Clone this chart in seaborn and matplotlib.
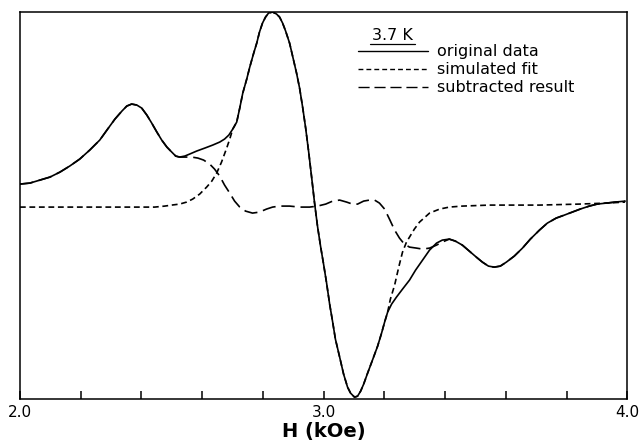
import pandas as pd
import seaborn as sns
import matplotlib.pyplot as plt
from matplotlib.ticker import MultipleLocator, FormatStrFormatter
from matplotlib.lines import Line2D

# values (field H in kOe, signal in arb. units)
h_orig = [2.000, 2.033, 2.066, 2.099, 2.132, 2.164, 2.197, 2.230, 2.263, 2.289,
          2.313, 2.336, 2.352, 2.368, 2.385, 2.401, 2.418, 2.434, 2.451, 2.467,
          2.484, 2.500, 2.513, 2.526, 2.543, 2.559, 2.582, 2.609, 2.635, 2.658,
          2.674, 2.688, 2.701, 2.714, 2.724, 2.734, 2.747, 2.757, 2.770, 2.780,
          2.789, 2.799, 2.809, 2.819, 2.832, 2.845, 2.855, 2.865, 2.875, 2.888,
          2.898, 2.911, 2.921, 2.931, 2.941, 2.951, 2.961, 2.970, 2.980, 2.990,
          3.000, 3.010, 3.020, 3.030, 3.039, 3.053, 3.066, 3.079, 3.089, 3.102,
          3.112, 3.122, 3.132, 3.145, 3.161, 3.178, 3.191, 3.201, 3.211, 3.224,
          3.240, 3.260, 3.283, 3.303, 3.326, 3.349, 3.372, 3.391, 3.414, 3.434,
          3.457, 3.480, 3.503, 3.523, 3.543, 3.562, 3.582, 3.602, 3.628, 3.655,
          3.681, 3.711, 3.737, 3.766, 3.793, 3.819, 3.845, 3.875, 3.901, 3.931,
          3.961, 3.993]
y_orig = [0.22, 0.23, 0.26, 0.29, 0.34, 0.40, 0.47, 0.56, 0.66, 0.77,
          0.87, 0.95, 1.00, 1.02, 1.01, 0.98, 0.91, 0.83, 0.74, 0.66,
          0.59, 0.54, 0.50, 0.49, 0.50, 0.52, 0.55, 0.58, 0.61, 0.64,
          0.67, 0.71, 0.77, 0.84, 0.98, 1.13, 1.27, 1.39, 1.53, 1.63,
          1.74, 1.83, 1.89, 1.93, 1.94, 1.92, 1.89, 1.83, 1.75, 1.63,
          1.50, 1.33, 1.18, 0.99, 0.78, 0.54, 0.28, 0.04, -0.20, -0.40,
          -0.58, -0.77, -0.98, -1.16, -1.33, -1.51, -1.68, -1.81, -1.87, -1.91,
          -1.90, -1.85, -1.78, -1.67, -1.54, -1.40, -1.27, -1.16, -1.06, -0.98,
          -0.91, -0.83, -0.74, -0.64, -0.54, -0.44, -0.37, -0.34, -0.33, -0.35,
          -0.39, -0.45, -0.51, -0.56, -0.60, -0.61, -0.60, -0.56, -0.50, -0.42,
          -0.33, -0.24, -0.17, -0.12, -0.09, -0.06, -0.03, 0.00, 0.02, 0.03,
          0.04, 0.05]

h_fit = [2.000, 2.132, 2.263, 2.395, 2.444, 2.477, 2.500, 2.526, 2.549, 2.569,
         2.592, 2.615, 2.632, 2.648, 2.664, 2.681, 2.691, 2.701, 2.714, 2.724,
         2.734, 2.747, 2.757, 2.770, 2.780, 2.789, 2.799, 2.809, 2.819, 2.832,
         2.845, 2.855, 2.865, 2.875, 2.888, 2.898, 2.911, 2.921, 2.931, 2.941,
         2.951, 2.961, 2.970, 2.980, 2.990, 3.000, 3.010, 3.020, 3.030, 3.039,
         3.053, 3.066, 3.079, 3.089, 3.102, 3.112, 3.122, 3.132, 3.145, 3.161,
         3.178, 3.191, 3.201, 3.211, 3.220, 3.234, 3.243, 3.250, 3.260, 3.273,
         3.283, 3.299, 3.316, 3.349, 3.382, 3.414, 3.457, 3.546, 3.711, 3.842,
         3.931, 3.993]
y_fit = [-0.01, -0.01, -0.01, -0.01, -0.01, 0.00, 0.01, 0.02, 0.04, 0.07,
         0.12, 0.19, 0.25, 0.33, 0.44, 0.58, 0.67, 0.77, 0.84, 0.98,
         1.13, 1.27, 1.39, 1.53, 1.63, 1.74, 1.83, 1.89, 1.93, 1.94,
         1.92, 1.89, 1.83, 1.75, 1.63, 1.50, 1.33, 1.18, 0.99, 0.78,
         0.54, 0.28, 0.04, -0.20, -0.40, -0.58, -0.77, -0.98, -1.16, -1.33,
         -1.51, -1.68, -1.81, -1.87, -1.91, -1.90, -1.85, -1.78, -1.67, -1.54,
         -1.40, -1.27, -1.16, -1.06, -0.93, -0.79, -0.67, -0.58, -0.46, -0.36,
         -0.31, -0.23, -0.16, -0.07, -0.03, -0.01, 0.00, 0.01, 0.01, 0.02,
         0.03, 0.04]

h_sub = [2.000, 2.033, 2.066, 2.099, 2.132, 2.164, 2.197, 2.230, 2.263, 2.289,
         2.313, 2.336, 2.352, 2.368, 2.385, 2.401, 2.418, 2.434, 2.451, 2.467,
         2.484, 2.500, 2.513, 2.526, 2.543, 2.566, 2.586, 2.605, 2.625, 2.641,
         2.658, 2.674, 2.691, 2.707, 2.724, 2.743, 2.766, 2.789, 2.812, 2.832,
         2.855, 2.888, 2.921, 2.954, 2.980, 3.007, 3.030, 3.053, 3.076, 3.095,
         3.112, 3.132, 3.151, 3.168, 3.184, 3.201, 3.217, 3.234, 3.250, 3.266,
         3.283, 3.306, 3.326, 3.349, 3.372, 3.391, 3.414, 3.434, 3.457, 3.480,
         3.503, 3.523, 3.543, 3.562, 3.582, 3.602, 3.628, 3.655, 3.681, 3.711,
         3.737, 3.766, 3.793, 3.819, 3.845, 3.875, 3.901, 3.931, 3.961, 3.993]
y_sub = [0.22, 0.23, 0.26, 0.29, 0.34, 0.40, 0.47, 0.56, 0.66, 0.77,
         0.87, 0.95, 1.00, 1.02, 1.01, 0.98, 0.91, 0.83, 0.74, 0.66,
         0.59, 0.54, 0.50, 0.49, 0.49, 0.49, 0.48, 0.46, 0.42, 0.37,
         0.30, 0.21, 0.13, 0.05, -0.01, -0.05, -0.07, -0.06, -0.03, -0.01,
         0.00, 0.00, -0.01, -0.01, 0.00, 0.02, 0.05, 0.06, 0.04, 0.02,
         0.02, 0.05, 0.06, 0.06, 0.03, -0.03, -0.13, -0.24, -0.32, -0.38,
         -0.41, -0.42, -0.43, -0.42, -0.39, -0.36, -0.33, -0.35, -0.39, -0.45,
         -0.51, -0.56, -0.60, -0.61, -0.60, -0.56, -0.50, -0.42, -0.33, -0.24,
         -0.17, -0.12, -0.09, -0.06, -0.03, 0.00, 0.02, 0.03, 0.04, 0.05]

labels = ["original data", "simulated fit", "subtracted result"]
dash_styles = ["", (3.5, 2.2), (8, 3.5)]
temperature = "3.7 K"

df = pd.concat([
    pd.DataFrame({"H": h_orig, "signal": y_orig, "curve": labels[0]}),
    pd.DataFrame({"H": h_fit, "signal": y_fit, "curve": labels[1]}),
    pd.DataFrame({"H": h_sub, "signal": y_sub, "curve": labels[2]}),
])

sns.set_style("ticks")
plt.rcParams["font.family"] = ["DejaVu Sans"]
plt.rcParams["text.color"] = "black"
plt.rcParams["axes.labelcolor"] = "black"

fig = plt.figure(figsize=(6.42, 4.45), dpi=100)
ax = fig.add_axes([0.031, 0.103, 0.946, 0.870])

sns.lineplot(data=df, x="H", y="signal", hue="curve", style="curve",
             palette={l: "black" for l in labels},
             dashes=dict(zip(labels, dash_styles)),
             estimator=None, sort=False, linewidth=1.2, legend=False, ax=ax)

ax.set_xlim(2.0, 4.0)
ax.set_ylim(-1.93, 1.94)
ax.xaxis.set_major_locator(MultipleLocator(1.0))
ax.xaxis.set_minor_locator(MultipleLocator(0.2))
ax.xaxis.set_major_formatter(FormatStrFormatter("%.1f"))
ax.tick_params(axis="x", which="both", direction="in", length=6, width=1.1,
               top=False, labelsize=11, pad=4, colors="black")
ax.set_yticks([])
for s in ax.spines.values():
    s.set_linewidth(1.1)
    s.set_color("black")

ax.set_xlabel("H (kOe)", fontsize=14, fontweight="bold", labelpad=2)
ax.set_ylabel("")

handles = [Line2D([], [], color="black", lw=1.0)]
handles += [Line2D([], [], color="black", lw=1.0, dashes=d) for d in dash_styles[1:]]
ax.legend(handles, labels, loc="upper left", bbox_to_anchor=(0.557, 0.917),
          frameon=False, fontsize=11.5, handlelength=4.4, handletextpad=0.56,
          labelspacing=0.19, borderpad=0, borderaxespad=0, labelcolor="black")

ax.text(0.614, 0.927, temperature, transform=ax.transAxes, fontsize=11.5,
        ha="center", va="baseline", color="black")
ax.plot([0.577, 0.651], [0.918, 0.918], transform=ax.transAxes,
        color="black", lw=0.9)

fig.savefig("out.png", dpi=100)
